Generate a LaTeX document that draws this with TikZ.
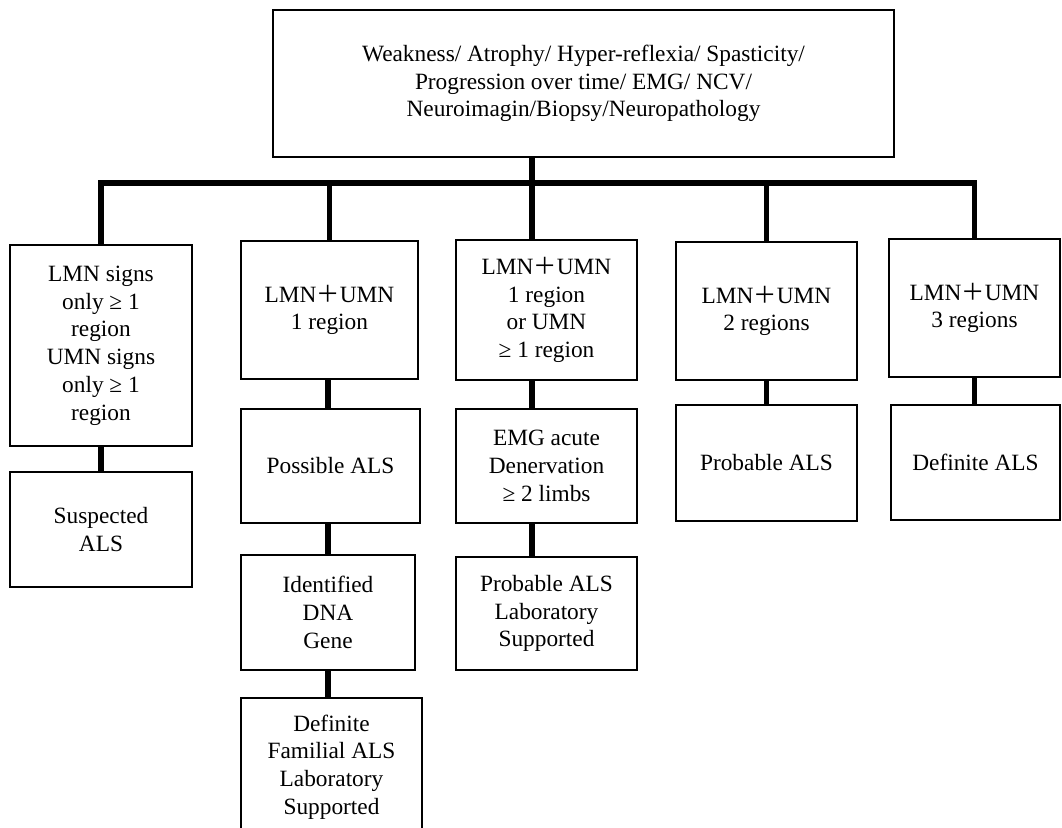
\documentclass[tikz,border=0pt]{standalone}
\usepackage{fontspec}
\setmainfont{Liberation Serif}
\newfontfamily\cjk{Noto Sans CJK SC}
\newcommand{\wplus}{{\cjk ＋}}

\tikzset{
  box/.style={draw=black, line width=1.1pt, align=center, inner sep=0pt,
    font=\fontsize{17.5}{20.8}\selectfont},
  trunk/.style={draw=black, line width=4pt, line join=miter},
  sz/.style 2 args={minimum width=#1*0.75pt, minimum height=#2*0.75pt}
}

\begin{document}
\begin{tikzpicture}[x=0.75pt, y=-0.75pt]
    \useasboundingbox (0,0) rectangle (1062,827);
    \clip (0,0) rectangle (1062,827);

    % top box
    \node[box, sz={621}{147}] (top) at (583.5,83.5)
        {Weakness/ Atrophy/ Hyper-reflexia/ Spasticity/\\Progression over time/ EMG/ NCV/\\Neuroimagin/Biopsy/Neuropathology};

    % first row
    \node[box, sz={182}{201}] (lmn) at (101,345.5)
        {LMN signs\\only ≥ 1\\region\\UMN signs\\only ≥ 1\\region};
    \node[box, sz={177}{138}] (one) at (329.5,310) {LMN\wplus UMN\\1 region};
    \node[box, sz={181}{140}] (oneor) at (546.5,310) {LMN\wplus UMN\\1 region\\or UMN\\≥ 1 region};
    \node[box, sz={181}{138}] (two) at (766.5,311) {LMN\wplus UMN\\2 regions};
    \node[box, sz={171}{138}] (three) at (974.5,308) {LMN\wplus UMN\\3 regions};

    % second row
    \node[box, sz={182}{115}] (suspected) at (101,529.5) {Suspected\\ALS};
    \node[box, sz={179}{114}] (possible) at (330.5,466) {Possible ALS};
    \node[box, sz={181}{114}] (emg) at (546.5,466) {EMG acute\\Denervation\\≥ 2 limbs};
    \node[box, sz={181}{116}] (probable) at (766.5,463) {Probable ALS};
    \node[box, sz={169}{115}] (definite) at (975.5,462.5) {Definite ALS};

    % third and fourth row
    \node[box, sz={174}{115}] (gene) at (328,612.5) {Identified\\DNA\\Gene};
    \node[box, sz={181}{113}] (problab) at (546.5,613.5) {Probable ALS\\Laboratory\\Supported};
    \node[box, sz={181}{138}] (familial) at (331.5,767) {Definite\\Familial ALS\\Laboratory\\Supported};

    % trunk lines
    \coordinate (bar) at (532,183);
    \draw[trunk] (lmn.north) |- (three.north |- bar) -- (three.north);
    \draw[trunk] (top.south -| bar) -- (bar);
    \draw[trunk] (one.north |- bar) -- (one.north);
    \draw[trunk] (bar) -- (bar |- oneor.north);
    \draw[trunk] (two.north |- bar) -- (two.north);

    \draw[trunk] (lmn.south) -- (suspected.north);
    \draw[trunk] (one.south -| gene) -- (possible.north -| gene);
    \draw[trunk] (possible.south -| gene) -- (gene.north);
    \draw[trunk] (gene.south) -- (familial.north -| gene);
    \draw[trunk] (oneor.south -| bar) -- (emg.north -| bar);
    \draw[trunk] (emg.south -| bar) -- (problab.north -| bar);
    \draw[trunk] (two.south) -- (probable.north);
    \draw[trunk] (three.south) -- (definite.north -| three);
\end{tikzpicture}
\end{document}
